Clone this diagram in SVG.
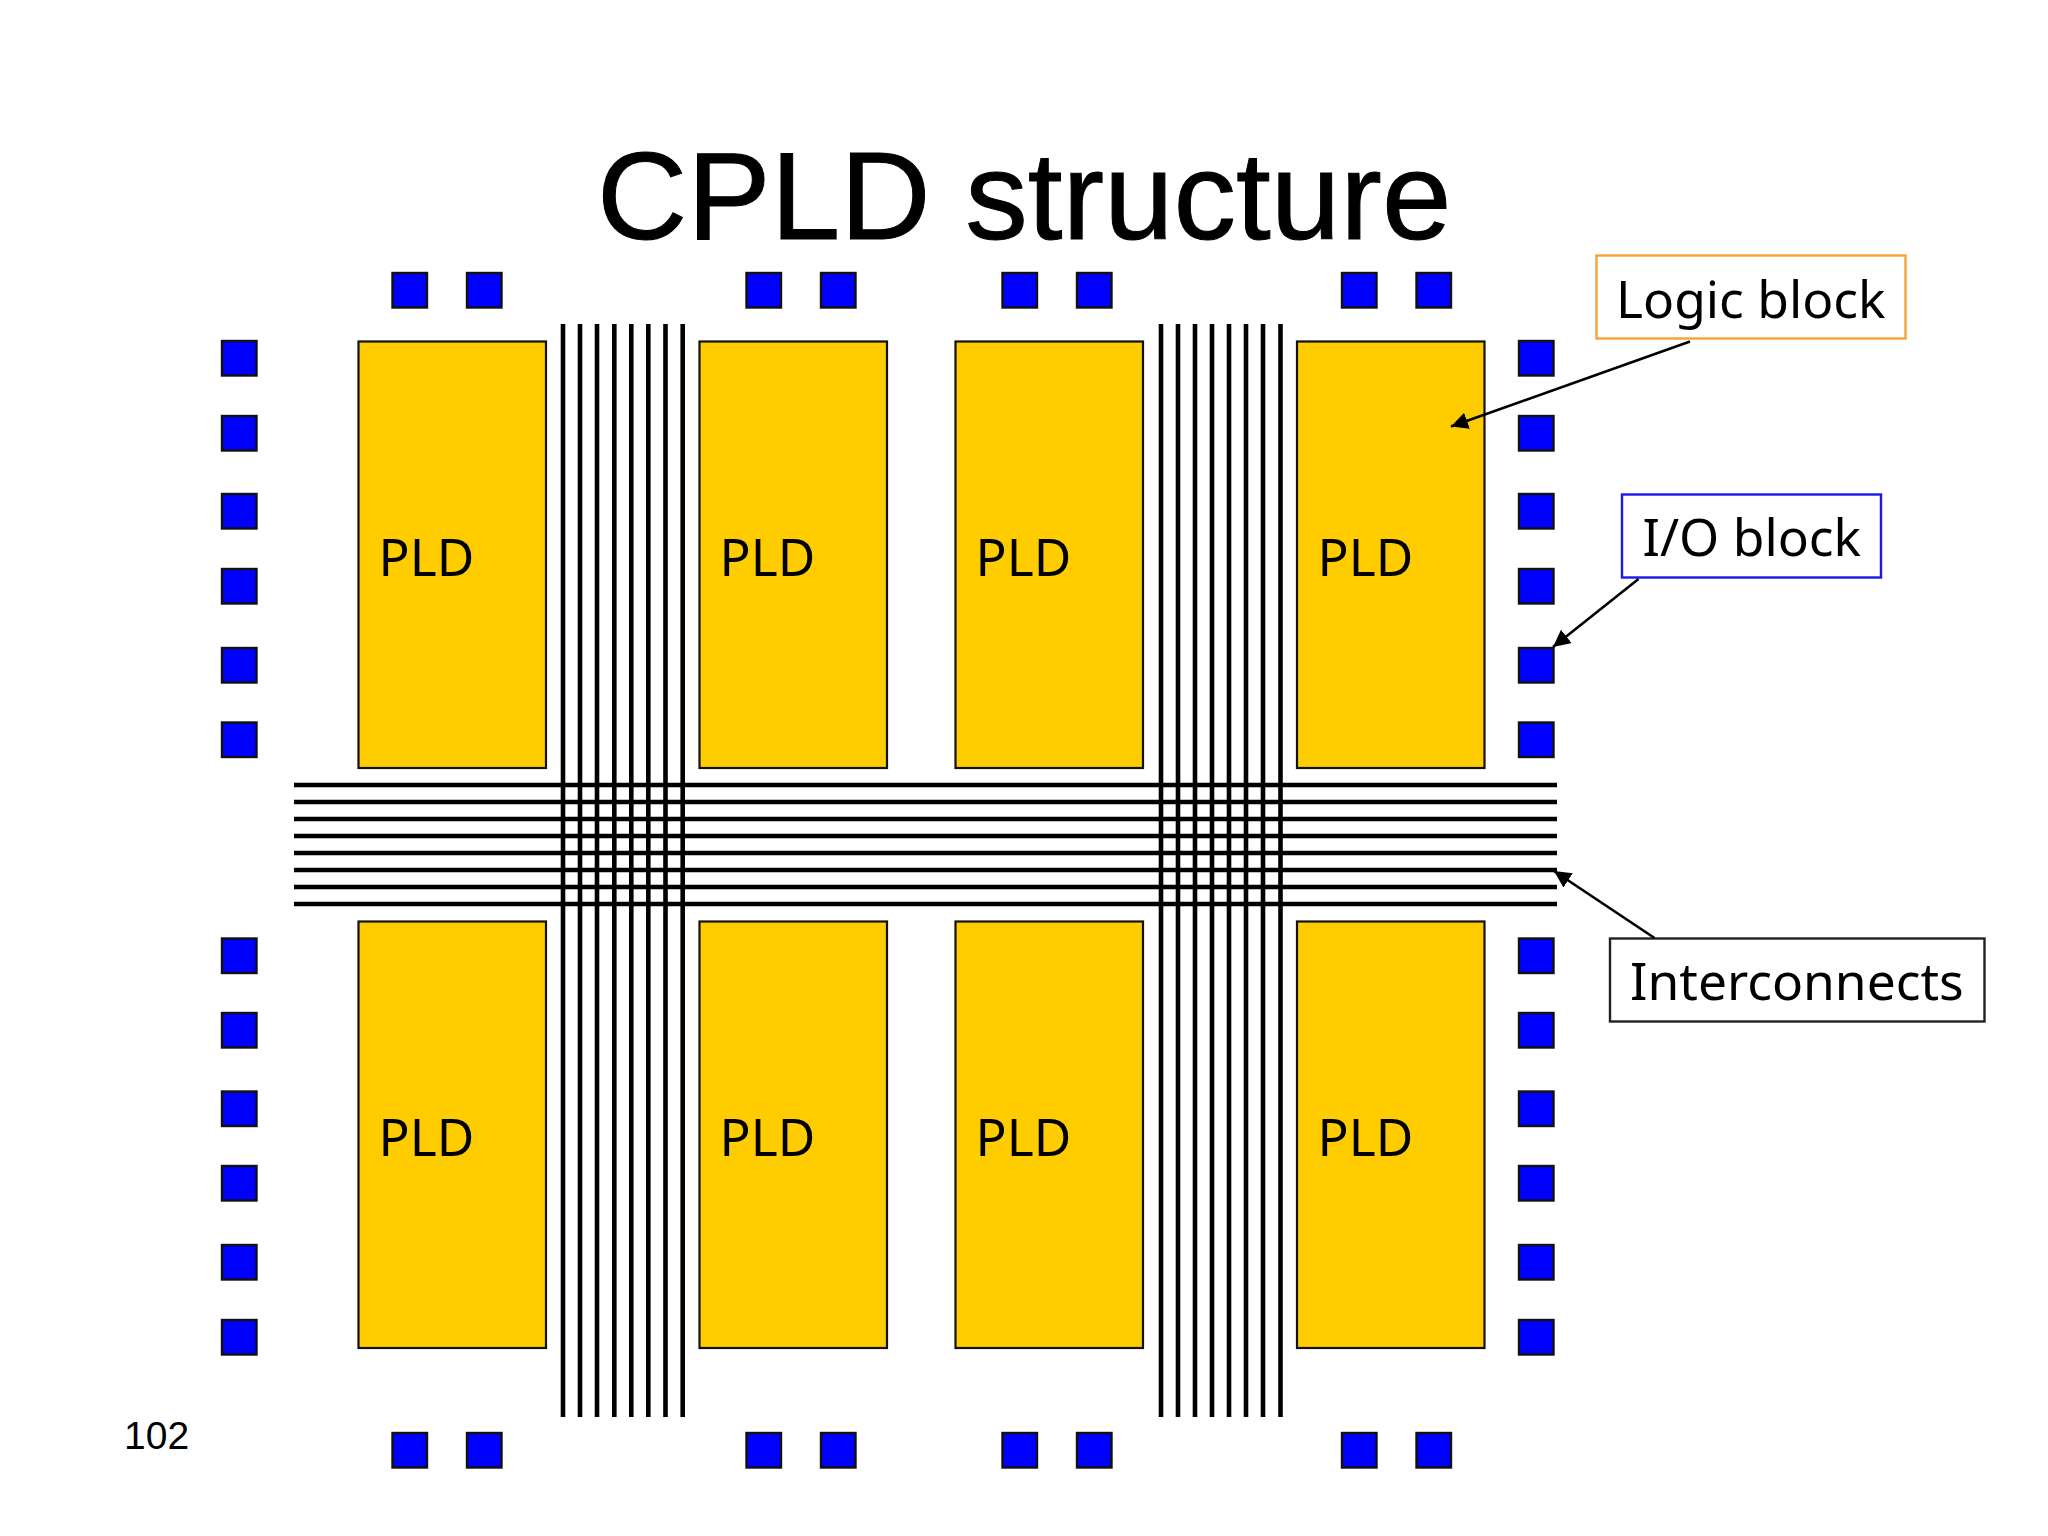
<svg xmlns="http://www.w3.org/2000/svg" width="2048" height="1536" viewBox="0 0 2048 1536">
<style>
.pld{fill:#ffcc00;stroke:#111;stroke-width:2.2}
.io{fill:#0000ff;stroke:#111;stroke-width:2.4}
.bus{stroke:#000;stroke-width:4.600;fill:none}
.lead{stroke:#000;stroke-width:2.600;fill:none;marker-end:url(#ah)}
.lbl{fill:#fff;stroke-width:2.400}
.t{font-family:"Noto Sans","Open Sans",sans-serif;font-size:51.500px;fill:#000}
.s{font-family:"Liberation Sans",Arial,sans-serif;fill:#000}
</style>
<defs>
<marker id="ah" markerUnits="userSpaceOnUse" markerWidth="18" markerHeight="18" refX="17" refY="8.500" orient="auto"><path d="M0 0L17 8.500L0 17Z" fill="#000"/></marker>
<rect id="p" class="pld" width="187.500" height="426.500"/>
<rect id="q" class="io" width="34.500" height="34.500"/>
</defs>
<rect width="2048" height="1536" fill="#fff"/>
<text class="s" x="597" y="239" font-size="125" stroke="#000" stroke-width="1">CPLD structure</text>
<text class="s" x="124" y="1449" font-size="39">102</text>

<g id="pld-1"><use href="#p" x="358.500" y="341.500"/><text class="t" x="378.500" y="575.500">PLD</text></g>
<g id="pld-2"><use href="#p" x="699.500" y="341.500"/><text class="t" x="719.500" y="575.500">PLD</text></g>
<g id="pld-3"><use href="#p" x="955.500" y="341.500"/><text class="t" x="975.500" y="575.500">PLD</text></g>
<g id="pld-4"><use href="#p" x="1297" y="341.500"/><text class="t" x="1317.500" y="575.500">PLD</text></g>
<g id="pld-5"><use href="#p" x="358.500" y="921.500"/><text class="t" x="378.500" y="1155.500">PLD</text></g>
<g id="pld-6"><use href="#p" x="699.500" y="921.500"/><text class="t" x="719.500" y="1155.500">PLD</text></g>
<g id="pld-7"><use href="#p" x="955.500" y="921.500"/><text class="t" x="975.500" y="1155.500">PLD</text></g>
<g id="pld-8"><use href="#p" x="1297" y="921.500"/><text class="t" x="1317.500" y="1155.500">PLD</text></g>

<g id="io-top">
<use href="#q" x="392.500" y="273"/><use href="#q" x="467" y="273"/><use href="#q" x="746.500" y="273"/><use href="#q" x="821" y="273"/><use href="#q" x="1002.500" y="273"/><use href="#q" x="1077" y="273"/><use href="#q" x="1342" y="273"/><use href="#q" x="1416.500" y="273"/>
</g>
<g id="io-bottom">
<use href="#q" x="392.500" y="1433"/><use href="#q" x="467" y="1433"/><use href="#q" x="746.500" y="1433"/><use href="#q" x="821" y="1433"/><use href="#q" x="1002.500" y="1433"/><use href="#q" x="1077" y="1433"/><use href="#q" x="1342" y="1433"/><use href="#q" x="1416.500" y="1433"/>
</g>
<g id="io-left">
<use href="#q" x="222" y="341"/><use href="#q" x="222" y="416"/><use href="#q" x="222" y="494"/><use href="#q" x="222" y="569"/><use href="#q" x="222" y="648"/><use href="#q" x="222" y="722.500"/>
<use href="#q" x="222" y="938.500"/><use href="#q" x="222" y="1013"/><use href="#q" x="222" y="1091.500"/><use href="#q" x="222" y="1166"/><use href="#q" x="222" y="1245"/><use href="#q" x="222" y="1320"/>
</g>
<g id="io-right">
<use href="#q" x="1519" y="341"/><use href="#q" x="1519" y="416"/><use href="#q" x="1519" y="494"/><use href="#q" x="1519" y="569"/><use href="#q" x="1519" y="648"/><use href="#q" x="1519" y="722.500"/>
<use href="#q" x="1519" y="938.500"/><use href="#q" x="1519" y="1013"/><use href="#q" x="1519" y="1091.500"/><use href="#q" x="1519" y="1166"/><use href="#q" x="1519" y="1245"/><use href="#q" x="1519" y="1320"/>
</g>

<g id="bus-horizontal" class="bus">
<path d="M294 785H1557M294 802H1557M294 819H1557M294 836H1557M294 853H1557M294 870H1557M294 887H1557M294 904H1557"/>
</g>
<g id="bus-vertical" class="bus">
<path d="M563 324V1417M580 324V1417M597 324V1417M614.300 324V1417M631.300 324V1417M648.300 324V1417M665.500 324V1417M682.700 324V1417"/>
<path d="M1161 324V1417M1178 324V1417M1195 324V1417M1212 324V1417M1229 324V1417M1246 324V1417M1263 324V1417M1280.500 324V1417"/>
</g>

<g id="label-logic"><rect class="lbl" x="1596.500" y="255.500" width="309" height="83" stroke="#f7a33b"/><text class="t" x="1616" y="318">Logic block</text></g>
<g id="label-io"><rect class="lbl" x="1622" y="494.500" width="259" height="83" stroke="#1a1ae6"/><text class="t" x="1642.500" y="556">I/O block</text></g>
<g id="label-inter"><rect class="lbl" x="1610" y="938.500" width="374.500" height="83" stroke="#222"/><text class="t" x="1630" y="1000">Interconnects</text></g>

<g id="connectors">
<line class="lead" x1="1690" y1="341.500" x2="1451" y2="426.500"/>
<line class="lead" x1="1638.500" y1="579" x2="1553" y2="647"/>
<line class="lead" x1="1654.500" y1="938" x2="1554" y2="871"/>
</g>
</svg>
